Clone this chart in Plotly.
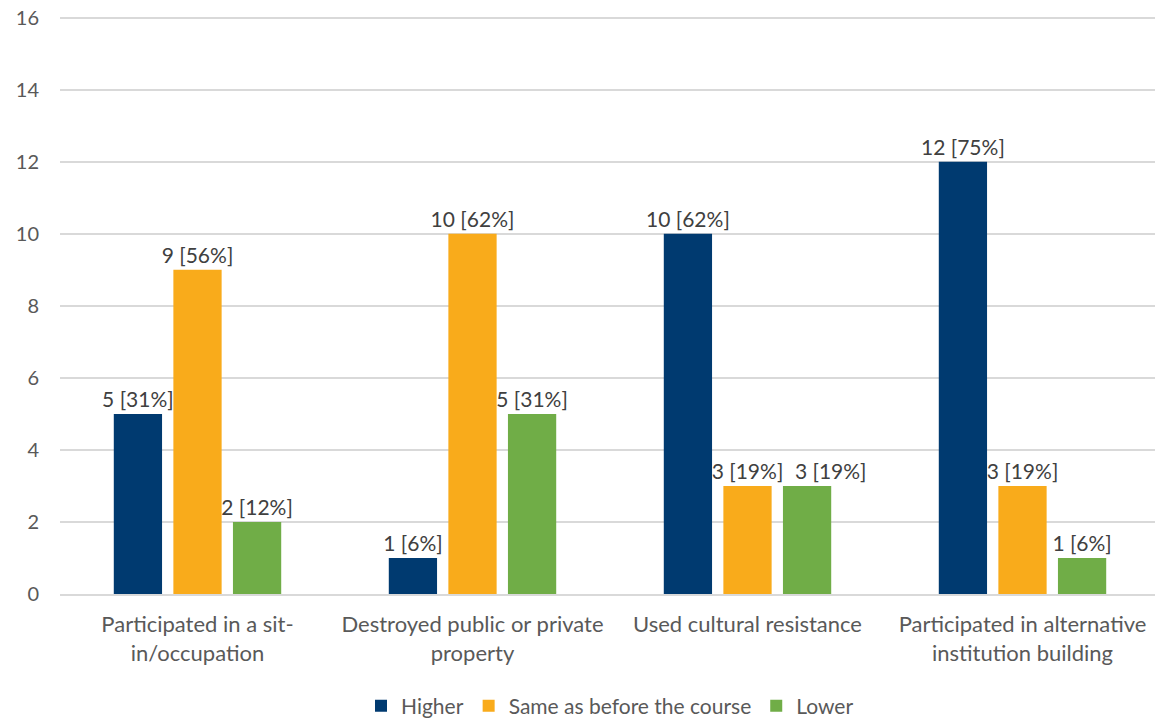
import plotly.graph_objects as go

categories = ["Participated in a sit-<br>in/occupation",
              "Destroyed public or private<br>property",
              "Used cultural resistance",
              "Participated in alternative<br>institution building"]
higher = [5, 1, 10, 12]
same = [9, 10, 3, 3]
lower = [2, 5, 3, 1]
higher_pct = ["31%", "6%", "62%", "75%"]
same_pct = ["56%", "62%", "19%", "19%"]
lower_pct = ["12%", "31%", "19%", "6%"]

fig = go.Figure()

series = [
    ("Higher", higher, higher_pct, "#003A70"),
    ("Same as before the course", same, same_pct, "#F9AB1B"),
    ("Lower", lower, lower_pct, "#70AD47"),
]

for name, vals, pct, col in series:
    labels = [f"{v} [{p}]" for v, p in zip(vals, pct)]
    if name == "Lower":
        # nudge the label right so it doesn't collide with its neighbour (as in the original)
        labels[2] = "\u2003\u2003\u2003" + labels[2]
    fig.add_trace(go.Bar(
        x=categories, y=vals, name=name,
        marker=dict(color=col, line=dict(width=0)),
        text=labels,
        textposition="outside",
        constraintext="none",
        textfont=dict(color="#404040", size=21),
        cliponaxis=False,
    ))

# page has an 8px body margin, so figure is sized to fit the window
fig.update_layout(
    width=1155, height=713,
    margin=dict(l=52, r=3, t=6, b=127, autoexpand=False),
    plot_bgcolor="white", paper_bgcolor="white",
    font=dict(family="Lato", size=20, color="#595959"),
    barmode="group", bargap=0.35, bargroupgap=0.19,
    showlegend=True,
    legend=dict(orientation="h", x=0.5, xanchor="center", yref="container", y=0.021,
                yanchor="middle", font=dict(size=21, color="#595959"), itemwidth=30),
)

# range a touch above 16 so the top gridline isn't clipped at the plot edge
fig.update_yaxes(range=[0, 16.1], tickvals=[0, 2, 4, 6, 8, 10, 12, 14, 16], showgrid=True,
                 gridcolor="#D9D9D9", gridwidth=1.5, ticklabeloverflow="allow",
                 zeroline=False, showline=False, ticklabelstandoff=20, automargin=False)
fig.update_xaxes(showline=True, linecolor="#D9D9D9", linewidth=1.5, ticks="",
                 tickfont=dict(size=22), ticklabelstandoff=10, automargin=False)

fig.write_html("out.html")
